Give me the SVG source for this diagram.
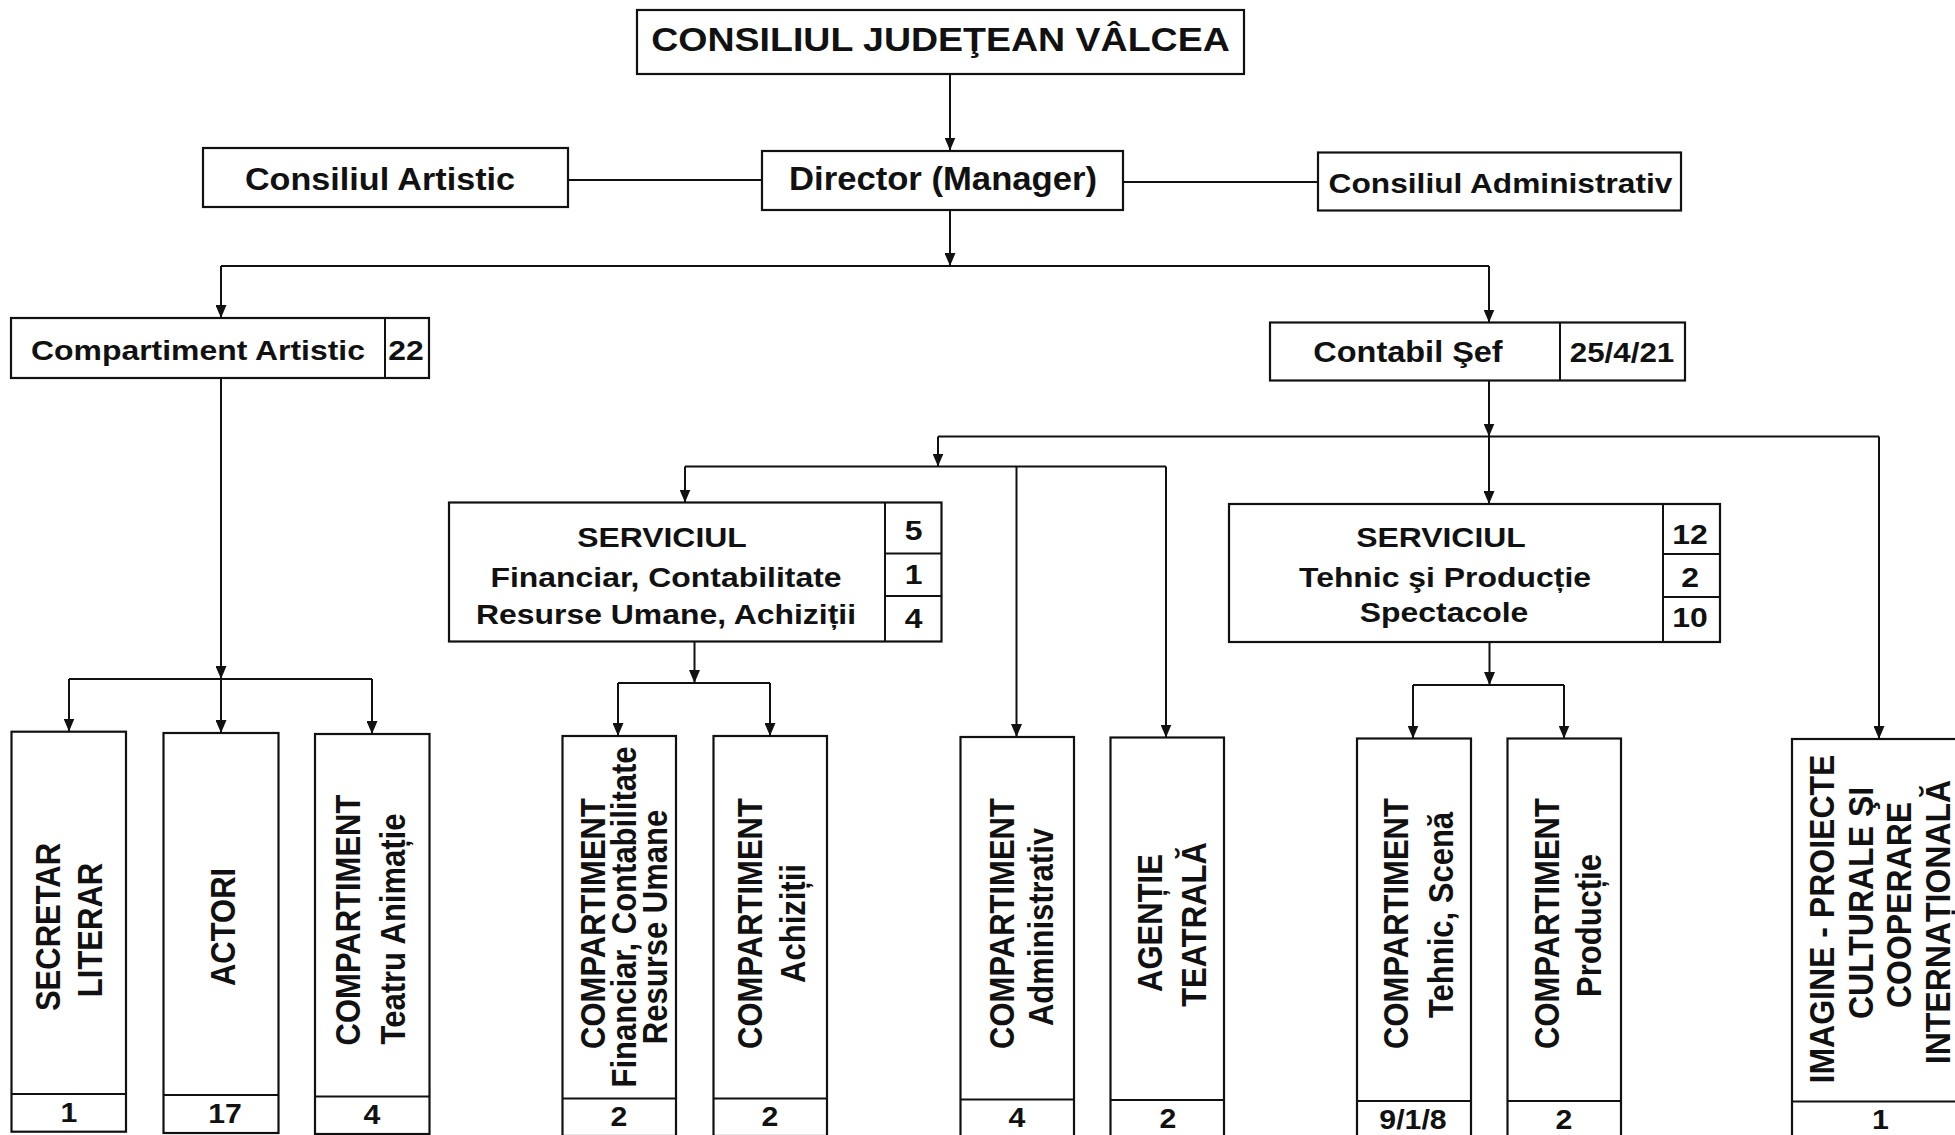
<svg xmlns="http://www.w3.org/2000/svg" width="1955" height="1135" viewBox="0 0 1955 1135">
<style>
rect.b{fill:#fff;stroke:#111;stroke-width:2.2}
line.d{stroke:#111;stroke-width:2}
.c path{fill:none;stroke:#111;stroke-width:2}
text{font-family:"Liberation Sans",Arial,sans-serif;font-weight:bold;fill:#111;text-anchor:middle}
.v{font-size:31px}
.n{font-size:27px}
.s{font-size:28.5px}
</style>
<defs>
<marker id="ah" viewBox="0 0 13 11" refX="13" refY="5.5" markerWidth="13" markerHeight="11" markerUnits="userSpaceOnUse" orient="auto">
<path d="M0,0 L13,5.5 L0,11 z" fill="#111"/>
</marker>
</defs>
<rect width="1955" height="1135" fill="#fff"/>

<g class="c" id="connectors">
<path d="M950,75 V150.5" marker-end="url(#ah)"/>
<path d="M950,210 V266" marker-end="url(#ah)"/>
<path d="M221,266 H1489"/>
<path d="M221,266 V318" marker-end="url(#ah)"/>
<path d="M1489,266 V322.5" marker-end="url(#ah)"/>
<path d="M568,180 H762"/>
<path d="M1123,182 H1318"/>
<path d="M221,378 V679" marker-end="url(#ah)"/>
<path d="M69,679 H372"/>
<path d="M69,679 V731.5" marker-end="url(#ah)"/>
<path d="M221,679 V733" marker-end="url(#ah)"/>
<path d="M372,679 V734" marker-end="url(#ah)"/>
<path d="M1489,381 V436.5" marker-end="url(#ah)"/>
<path d="M938,436.5 H1879"/>
<path d="M938,436.5 V466.5" marker-end="url(#ah)"/>
<path d="M685,466.5 H1166"/>
<path d="M685,466.5 V502.5" marker-end="url(#ah)"/>
<path d="M1016.5,466.5 V737" marker-end="url(#ah)"/>
<path d="M1166,466.5 V737.5" marker-end="url(#ah)"/>
<path d="M1489,436.5 V504" marker-end="url(#ah)"/>
<path d="M1879,436.5 V739" marker-end="url(#ah)"/>
<path d="M694.5,642 V683" marker-end="url(#ah)"/>
<path d="M618,683 H770"/>
<path d="M618,683 V736" marker-end="url(#ah)"/>
<path d="M770,683 V736" marker-end="url(#ah)"/>
<path d="M1489.5,642 V685" marker-end="url(#ah)"/>
<path d="M1413,685 H1564"/>
<path d="M1413,685 V738.5" marker-end="url(#ah)"/>
<path d="M1564,685 V738.5" marker-end="url(#ah)"/>
</g>

<g id="consiliul-judetean">
<rect class="b" x="637" y="10" width="607" height="64"/>
<text style="font-size:33.5px" transform="translate(940.5,50.5) scale(1.12,1)">CONSILIUL JUDEŢEAN VÂLCEA</text>
</g>

<g id="director">
<rect class="b" x="762" y="151" width="361" height="59"/>
<text style="font-size:33px" transform="translate(943,190) scale(1.05,1)">Director (Manager)</text>
</g>

<g id="consiliul-artistic">
<rect class="b" x="203" y="148" width="365" height="59"/>
<text style="font-size:30.5px" transform="translate(380,190) scale(1.12,1)">Consiliul Artistic</text>
</g>

<g id="consiliul-administrativ">
<rect class="b" x="1318" y="152.5" width="363" height="58"/>
<text style="font-size:28.3px" transform="translate(1500.5,193) scale(1.12,1)">Consiliul Administrativ</text>
</g>

<g id="compartiment-artistic">
<rect class="b" x="11" y="318" width="418" height="60"/>
<line class="d" x1="385" y1="318" x2="385" y2="378"/>
<text style="font-size:28.5px" transform="translate(198,360) scale(1.12,1)">Compartiment Artistic</text>
<text style="font-size:28.5px" transform="translate(406,360) scale(1.12,1)">22</text>
</g>

<g id="contabil-sef">
<rect class="b" x="1270" y="322.5" width="415" height="58"/>
<line class="d" x1="1560" y1="322.5" x2="1560" y2="380.5"/>
<text style="font-size:29px" transform="translate(1408,362) scale(1.12,1)">Contabil Şef</text>
<text style="font-size:28px" transform="translate(1622,362) scale(1.12,1)">25/4/21</text>
</g>

<g id="serviciul-financiar">
<rect class="b" x="449" y="502.5" width="492.5" height="139"/>
<line class="d" x1="885" y1="502.5" x2="885" y2="641.5"/>
<line class="d" x1="885" y1="553.5" x2="941.5" y2="553.5"/>
<line class="d" x1="885" y1="596" x2="941.5" y2="596"/>
<text class="s" transform="translate(662,547) scale(1.12,1)">SERVICIUL</text>
<text class="s" transform="translate(666,587) scale(1.12,1)">Financiar, Contabilitate</text>
<text class="s" transform="translate(666,623.5) scale(1.12,1)">Resurse Umane, Achiziții</text>
<text class="s" transform="translate(913.5,540) scale(1.12,1)">5</text>
<text class="s" transform="translate(913.5,583.5) scale(1.12,1)">1</text>
<text class="s" transform="translate(913.5,628) scale(1.12,1)">4</text>
</g>

<g id="serviciul-tehnic">
<rect class="b" x="1229" y="504" width="491" height="138"/>
<line class="d" x1="1663" y1="504" x2="1663" y2="642"/>
<line class="d" x1="1663" y1="554" x2="1720" y2="554"/>
<line class="d" x1="1663" y1="597" x2="1720" y2="597"/>
<text class="s" transform="translate(1441,547) scale(1.12,1)">SERVICIUL</text>
<text class="s" transform="translate(1445,587) scale(1.12,1)">Tehnic şi Producție</text>
<text class="s" transform="translate(1444,622) scale(1.12,1)">Spectacole</text>
<text class="s" transform="translate(1690,543.5) scale(1.12,1)">12</text>
<text class="s" transform="translate(1690,587) scale(1.12,1)">2</text>
<text class="s" transform="translate(1690,627) scale(1.12,1)">10</text>
</g>

<g id="secretar-literar">
<rect class="b" x="11.5" y="731.7" width="114.5" height="400"/>
<line class="d" x1="11.5" y1="1094" x2="126" y2="1094"/>
<text class="v" transform="translate(60,927) scale(1.12,1) rotate(-90)">SECRETAR</text>
<text class="v" transform="translate(101.5,930) scale(1.12,1) rotate(-90)">LITERAR</text>
<text class="n" transform="translate(69,1122) scale(1.12,1)">1</text>
</g>

<g id="actori">
<rect class="b" x="163.5" y="733" width="115" height="400"/>
<line class="d" x1="163.5" y1="1095" x2="278.5" y2="1095"/>
<text class="v" transform="translate(235,927) scale(1.12,1) rotate(-90)">ACTORI</text>
<text class="n" transform="translate(225,1123) scale(1.12,1)">17</text>
</g>

<g id="teatru-animatie">
<rect class="b" x="315" y="734" width="114.5" height="400"/>
<line class="d" x1="315" y1="1096.5" x2="429.5" y2="1096.5"/>
<text class="v" transform="translate(360,920) scale(1.12,1) rotate(-90)">COMPARTIMENT</text>
<text class="v" transform="translate(405,929) scale(1.12,1) rotate(-90)">Teatru Animație</text>
<text class="n" transform="translate(372,1124) scale(1.12,1)">4</text>
</g>

<g id="comp-financiar">
<rect class="b" x="562.5" y="736" width="113.5" height="400"/>
<line class="d" x1="562.5" y1="1098.5" x2="676" y2="1098.5"/>
<text class="v" transform="translate(605,923.5) scale(1.12,1) rotate(-90)">COMPARTIMENT</text>
<text class="v" transform="translate(636,917) scale(1.12,1) rotate(-90)">Financiar, Contabilitate</text>
<text class="v" transform="translate(667,927) scale(1.12,1) rotate(-90)">Resurse Umane</text>
<text class="n" transform="translate(619,1126) scale(1.12,1)">2</text>
</g>

<g id="comp-achizitii">
<rect class="b" x="713.5" y="736" width="113.5" height="400"/>
<line class="d" x1="713.5" y1="1098.5" x2="827" y2="1098.5"/>
<text class="v" transform="translate(762,923.5) scale(1.12,1) rotate(-90)">COMPARTIMENT</text>
<text class="v" transform="translate(805,923.5) scale(1.12,1) rotate(-90)">Achiziții</text>
<text class="n" transform="translate(770,1126) scale(1.12,1)">2</text>
</g>

<g id="comp-administrativ">
<rect class="b" x="960.5" y="737" width="113.5" height="400"/>
<line class="d" x1="960.5" y1="1099.5" x2="1074" y2="1099.5"/>
<text class="v" transform="translate(1014,923.5) scale(1.12,1) rotate(-90)">COMPARTIMENT</text>
<text class="v" transform="translate(1052.5,927) scale(1.12,1) rotate(-90)">Administrativ</text>
<text class="n" transform="translate(1017,1127) scale(1.12,1)">4</text>
</g>

<g id="agentie-teatrala">
<rect class="b" x="1110.5" y="737.5" width="113.5" height="400"/>
<line class="d" x1="1110.5" y1="1100" x2="1224" y2="1100"/>
<text class="v" transform="translate(1161.5,923) scale(1.12,1) rotate(-90)">AGENȚIE</text>
<text class="v" transform="translate(1206,924.5) scale(1.12,1) rotate(-90)">TEATRALĂ</text>
<text class="n" transform="translate(1168,1127.5) scale(1.12,1)">2</text>
</g>

<g id="comp-tehnic">
<rect class="b" x="1357" y="738.5" width="114" height="400"/>
<line class="d" x1="1357" y1="1101" x2="1471" y2="1101"/>
<text class="v" transform="translate(1408,923.5) scale(1.12,1) rotate(-90)">COMPARTIMENT</text>
<text class="v" transform="translate(1453,915) scale(1.12,1) rotate(-90)">Tehnic, Scenă</text>
<text class="n" transform="translate(1413,1128.5) scale(1.12,1)">9/1/8</text>
</g>

<g id="comp-productie">
<rect class="b" x="1507.5" y="738.5" width="113.5" height="400"/>
<line class="d" x1="1507.5" y1="1101" x2="1621" y2="1101"/>
<text class="v" transform="translate(1559,923.5) scale(1.12,1) rotate(-90)">COMPARTIMENT</text>
<text class="v" transform="translate(1600.5,925.5) scale(1.12,1) rotate(-90)">Producție</text>
<text class="n" transform="translate(1564,1128.5) scale(1.12,1)">2</text>
</g>

<g id="imagine-proiecte">
<rect class="b" x="1792" y="739" width="176" height="400"/>
<line class="d" x1="1792" y1="1101.5" x2="1968" y2="1101.5"/>
<text class="v" style="font-size:32px" transform="translate(1834,919) scale(1.12,1) rotate(-90)">IMAGINE - PROIECTE</text>
<text class="v" style="font-size:32px" transform="translate(1873,903) scale(1.12,1) rotate(-90)">CULTURALE ŞI</text>
<text class="v" style="font-size:32px" transform="translate(1911,905) scale(1.12,1) rotate(-90)">COOPERARE</text>
<text class="v" style="font-size:32px" transform="translate(1950,922) scale(1.12,1) rotate(-90)">INTERNAȚIONALĂ</text>
<text class="n" transform="translate(1880.5,1129) scale(1.12,1)">1</text>
</g>
</svg>
